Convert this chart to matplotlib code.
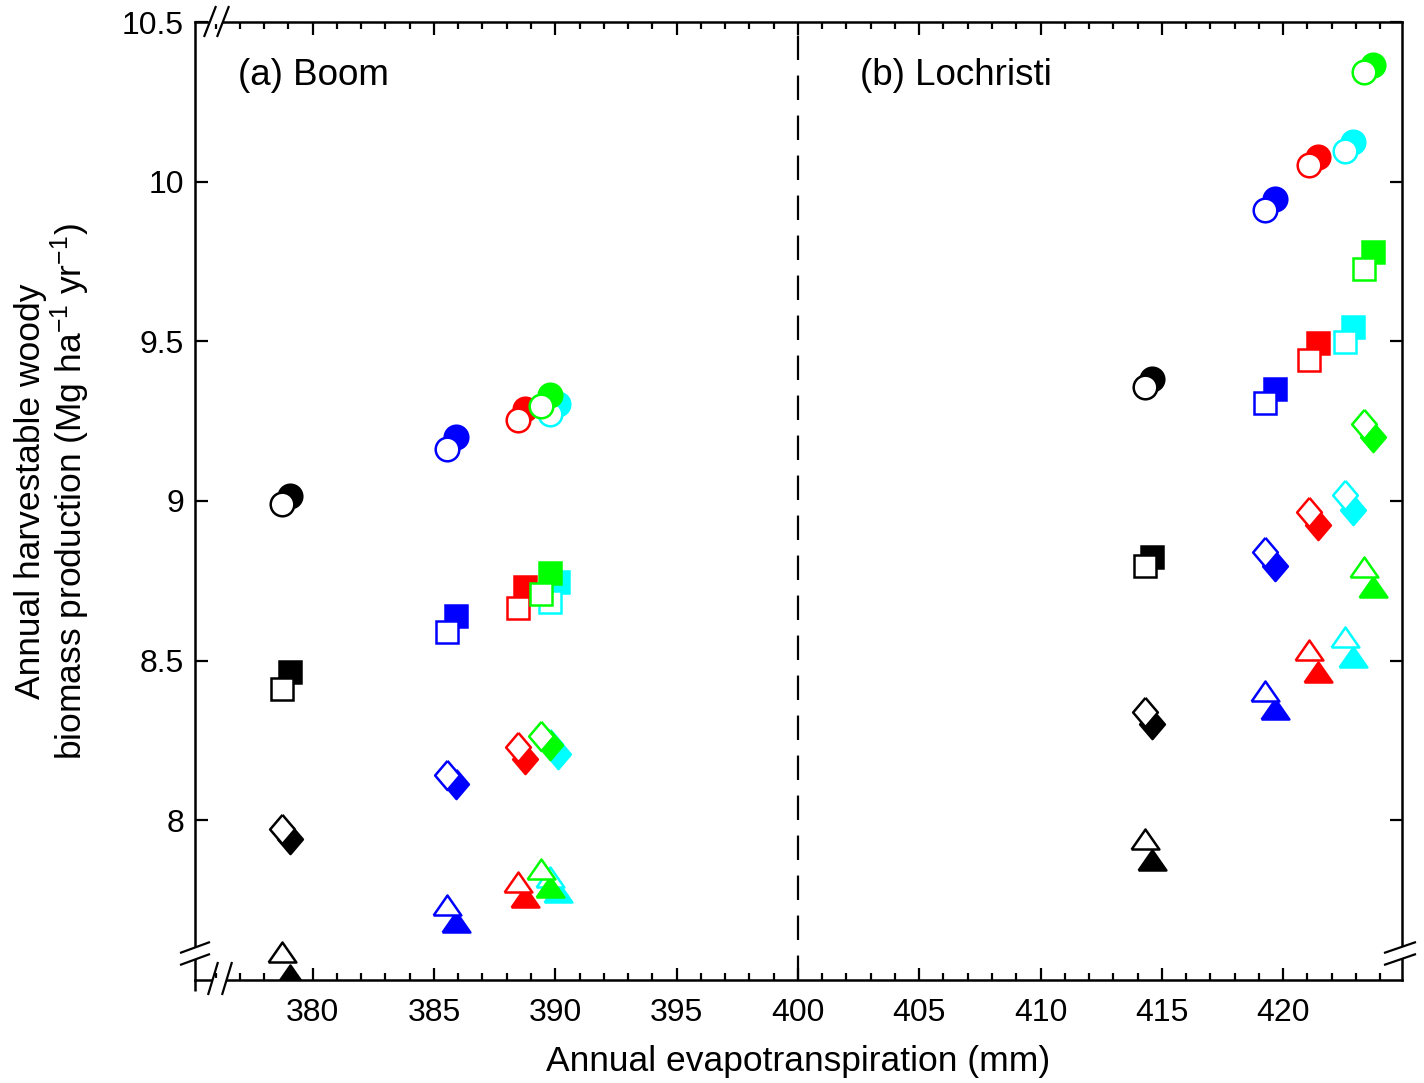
import numpy as np
import matplotlib
matplotlib.use('Agg')
import matplotlib.pyplot as plt
from matplotlib.lines import Line2D

plt.rcParams['font.family'] = ['Liberation Sans', 'DejaVu Sans']
plt.rcParams['mathtext.fontset'] = 'custom'
plt.rcParams['mathtext.rm'] = 'Liberation Sans'
plt.rcParams['mathtext.it'] = 'Liberation Sans:italic'

# scenario colours: black, blue, red, cyan, green
colors = ['#000000', '#0000ff', '#ff0000', '#00ffff', '#00ff00']

# Boom: evapotranspiration (open / filled)
boom_x_open = [378.72, 385.55, 388.46, 389.77, 389.41]
boom_x_fill = [379.06, 385.90, 388.76, 390.11, 389.77]
boom_circ_open = [8.990, 9.164, 9.253, 9.274, 9.297]
boom_circ_fill = [9.015, 9.200, 9.289, 9.303, 9.331]
boom_sq_open = [8.410, 8.589, 8.666, 8.684, 8.710]
boom_sq_fill = [8.464, 8.639, 8.731, 8.746, 8.773]
boom_dia_open = [7.974, 8.141, 8.230, 8.240, 8.263]
boom_dia_fill = [7.943, 8.113, 8.193, 8.209, 8.235]
boom_tri_open = [7.587, 7.734, 7.807, 7.822, 7.849]
boom_tri_fill = [7.515, 7.682, 7.760, 7.775, 7.790]

# Lochristi
loch_x_open = [414.32, 419.27, 421.08, 422.54, 423.33]
loch_x_fill = [414.60, 419.65, 421.42, 422.90, 423.70]
loch_circ_open = [9.357, 9.910, 10.051, 10.095, 10.342]
loch_circ_fill = [9.383, 9.947, 10.077, 10.124, 10.364]
loch_sq_open = [8.796, 9.307, 9.440, 9.498, 9.728]
loch_sq_fill = [8.825, 9.350, 9.494, 9.545, 9.780]
loch_dia_open = [8.339, 8.840, 8.966, 9.018, 9.242]
loch_dia_fill = [8.303, 8.796, 8.924, 8.971, 9.200]
loch_tri_open = [7.943, 8.404, 8.532, 8.574, 8.793]
loch_tri_fill = [7.875, 8.350, 8.464, 8.511, 8.731]

W, H = 1424, 1083
fig = plt.figure(figsize=(W/100, H/100), dpi=100)
ax = fig.add_axes([195/W, 1-980/H, (1402-195)/W, (980-22)/H])

diamond = [(0, 1), (0.85, 0), (0, -1), (-0.85, 0), (0, 1)]
triangle = [(-1, -0.72), (1, -0.72), (0, 0.72), (-1, -0.72)]
shapes = [('o', 17), ('s', 16.5), (diamond, 21), (triangle, 20)]

sites = [
    (boom_x_open, boom_x_fill,
     [(boom_circ_open, boom_circ_fill), (boom_sq_open, boom_sq_fill),
      (boom_dia_open, boom_dia_fill), (boom_tri_open, boom_tri_fill)]),
    (loch_x_open, loch_x_fill,
     [(loch_circ_open, loch_circ_fill), (loch_sq_open, loch_sq_fill),
      (loch_dia_open, loch_dia_fill), (loch_tri_open, loch_tri_fill)]),
]

for xo, xf, groups in sites:
    for (mk, ms), (yo, yf) in zip(shapes, groups):
        for i, c in enumerate(colors):
            ax.plot(xf[i], yf[i], linestyle='none', marker=mk, ms=ms,
                    mfc=c, mec=c, mew=1.8)
            ax.plot(xo[i], yo[i], linestyle='none', marker=mk, ms=ms,
                    mfc='white', mec=c, mew=1.8)

ax.axvline(400, color='k', lw=1.6, dashes=(11, 7))

ax.text(376.92, 10.333, '(a) Boom', fontsize=26.5, ha='left', va='center')
ax.text(402.57, 10.333, '(b) Lochristi', fontsize=26.5, ha='left', va='center')

ax.set_xlim(375.15, 424.9)
ax.set_ylim(7.5, 10.5)
ax.set_xticks(np.arange(380, 421, 5))
ax.set_xticks(np.arange(376, 425, 1), minor=True)
ax.set_yticks([8, 8.5, 9, 9.5, 10, 10.5])
ax.set_yticklabels(['8', '8.5', '9', '9.5', '10', '10.5'])
ax.tick_params(which='both', direction='in', top=True, right=True, width=1.6)
ax.tick_params(which='major', length=9, labelsize=23)
ax.tick_params(which='minor', length=5)
ax.tick_params(axis='x', pad=13)
ax.tick_params(axis='y', pad=8)
for s in ax.spines.values():
    s.set_linewidth(1.8)

ax.set_xlabel('Annual evapotranspiration (mm)', fontsize=25.5)
ax.xaxis.set_label_coords(0.5, -0.068)
ax.set_ylabel('Annual harvestable woody\nbiomass production (Mg ha$^{-1}$ yr$^{-1}$)',
              fontsize=25.5, multialignment='center', linespacing=1.05)
ax.yaxis.set_label_coords(-0.085, 0.51)


# axis break marks (pixel positions of the figure)
def seg(x0, y0, x1, y1, color='k', lw=1.6):
    fig.add_artist(Line2D([x0/W, x1/W], [1-y0/H, 1-y1/H], color=color, lw=lw,
                          solid_capstyle='butt'))


seg(210, 22, 223, 22, 'white', 3)
seg(204, 37, 216, 6)
seg(217, 37, 229, 6)
seg(213, 980, 227, 980, 'white', 3)
seg(208, 995, 218, 962)
seg(222, 995, 232, 962)
seg(195, 947, 195, 959, 'white', 3)
seg(195, 980, 195, 991, lw=1.8)
seg(180, 953, 210, 942)
seg(180, 965, 210, 954)
seg(1402, 947, 1402, 959, 'white', 3)
seg(1384, 953, 1416, 942)
seg(1384, 965, 1416, 954)

fig.savefig('out.png', dpi=100)
